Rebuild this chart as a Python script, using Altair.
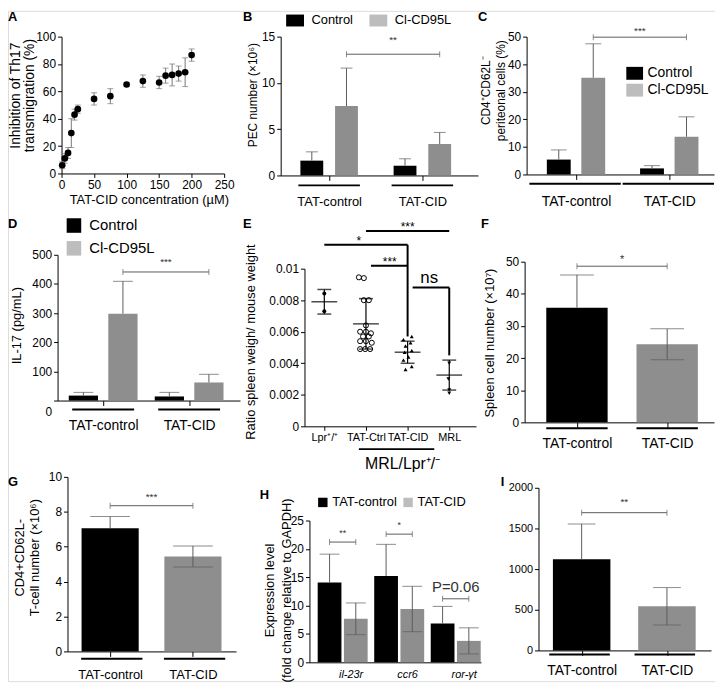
import json
import altair as alt
import pandas as pd

FONT = "Liberation Sans"
BLACK = "#000000"
BAR_GRAY = "#8e8e8e"
LEG_GRAY = "#bdbdbd"
ERR_COL = "#5c5c5c"
SIG_COL = "#333333"
VW, VH, M = 713, 676, 8

# ---------------- data ----------------
A_conc = [1, 5, 10, 15, 20, 25, 50, 75, 100, 125, 150, 160, 170, 180, 190, 200]
A_inhib = [6, 11, 15, 29.5, 43, 47, 54.5, 56.5, 65, 67.5, 66.5, 71.5, 72, 73, 74, 86.5]
A_err = [2.5, 3.5, 4, 10.5, 4, 3, 4.5, 5.5, 1.5, 4.5, 4.5, 5.5, 8, 5.5, 10.5, 4.5]

TAT_GROUPS = ["TAT-control", "TAT-CID"]
CD95_SERIES = ["Control", "Cl-CD95L"]

B_control = [1.6, 1.05]
B_control_err = [0.95, 0.75]
B_cd95 = [7.5, 3.4]
B_cd95_err = [4.1, 1.25]
B_sig_y = [13.1]
B_sig_text = ["**"]

C_control = [5.4, 2.2]
C_control_err = [3.5, 1.0]
C_cd95 = [35.1, 13.7]
C_cd95_err = [12.3, 7.2]
C_sig_y = [49.8]
C_sig_text = ["***"]

D_control = [17, 14]
D_control_err = [11, 14]
D_cd95 = [298, 62]
D_cd95_err = [111, 28]
D_sig_y = [441]
D_sig_text = ["***"]

E_groups = ["Lpr⁺/⁺", "TAT-Ctrl", "TAT-CID", "MRL"]
E_lpr = [0.00843, 0.0073]
E_lpr_jit = [0.0, 0.0]
E_ctrl = [0.00945, 0.0094, 0.0080, 0.0080, 0.0064, 0.0060, 0.0060, 0.0059,
          0.0057, 0.0057, 0.0054, 0.0054, 0.0053, 0.0049, 0.0049, 0.0049]
E_ctrl_jit = [-0.17, -0.05, -0.05, 0.07, 0.0, -0.14, 0.0, 0.12,
              -0.07, 0.07, -0.14, 0.0, 0.14, -0.14, -0.02, 0.1]
E_cid = [0.0057, 0.0055, 0.0053, 0.0051, 0.0048, 0.0047, 0.0044, 0.0042, 0.0038, 0.0036]
E_cid_jit = [0.1, -0.1, 0.07, -0.05, 0.1, -0.07, 0.02, -0.1, 0.1, -0.05]
E_mrl = [0.0040, 0.0030, 0.0023, 0.0021]
E_mrl_jit = [0.0, -0.02, 0.0, 0.0]
E_mean = [0.0079, 0.0065, 0.0047, 0.00325]
E_sd = [0.00078, 0.0016, 0.0007, 0.00095]
E_sig_from = [1, 0, 1.12, 2.12]
E_sig_to = [3, 2, 2, 3]
E_sig_y = [0.01239, 0.01151, 0.01019, 0.0088]
E_sig_text = ["***", "*", "***", "ns"]
E_sig_text_x = [2.0, 0.83, 1.57, 2.52]
E_drop_x = [2, 3]
E_drop_from = [0.01151, 0.0088]
E_drop_to = [0.0057, 0.0045]
E_strain_span = [0.83, 2.64]
E_strain = "MRL/Lpr⁺/⁻"
E_strain_x = 1.88

F_values = [35.7, 24.3]
F_err = [10.2, 4.8]
F_sig_y = [48.6]
F_sig_text = ["*"]

G_values = [7.06, 5.44]
G_err = [0.67, 0.6]
G_sig_y = [8.35]
G_sig_text = ["***"]

H_genes = ["il-23r", "ccr6", "ror-γt"]
H_series = ["TAT-control", "TAT-CID"]
H_control = [14.07, 15.2, 6.86]
H_control_err = [5.0, 5.6, 3.0]
H_cid = [7.67, 9.4, 3.78]
H_cid_err = [2.8, 4.0, 2.3]
H_sig_y = [21.2, 22.6, 11.2]
H_sig_text = ["**", "*", "P=0.06"]

I_values = [1122, 543]
I_err = [433, 230]
I_sig_y = [1694]
I_sig_text = ["**"]


# ---------------- helpers ----------------
def ax(**kw):
    base = dict(grid=False, domainColor=BLACK, tickColor=BLACK, labelColor=BLACK,
                titleColor=BLACK, labelFont=FONT, titleFont=FONT, titleFontWeight="normal",
                labelFlush=False, labelOverlap=False, domainWidth=1, tickWidth=1)
    base.update(kw)
    return alt.Axis(**base)


def ranges(geo):
    x0, x1, y0, y1 = geo
    return [x0 - M, x1 - M], [y1 - M, y0 - M], -(x0 - M), (y1 - M) - VH


def y_factory(p):
    _, yr, yoff, _ = ranges(p["geo"])
    kw = dict(values=p["yticks"], labelFontSize=p["yfs"], tickSize=4, labelPadding=2,
              orient="left", offset=yoff)
    if p.get("ytitle"):
        kw.update(title=p["ytitle"], titleFontSize=p["ytfs"], titleX=p["ytx"], titleY=p["yty"] - M,
                  titleBaseline="top", titleAlign="center",
                  titleLineHeight=p.get("ylh", p["ytfs"] + 2))
    else:
        kw.update(title="")
    if p.get("yfmt"):
        kw["format"] = p["yfmt"]
    if p.get("zero_drop"):
        kw["labelOffset"] = {"condition": {"test": "datum.value === 0", "value": p["zero_drop"]},
                             "value": 0}
    axis = ax(**kw)
    scale = alt.Scale(domain=p["ydom"], range=yr, nice=False, zero=False)
    return lambda field: alt.Y(field, scale=scale, axis=axis)


def x_cat_factory(p):
    xr, _, _, xoff = ranges(p["geo"])
    kw = dict(values=list(range(len(p["groups"]))),
              labelExpr=json.dumps(p["groups"], ensure_ascii=False) + "[datum.value]",
              title="", labelFontSize=p["xfs"], labelPadding=p["xpad"],
              tickSize=max(p["xtick"], 0), ticks=p["xtick"] > 0,
              labelOffset=p.get("xloff", 0), labelFontStyle=p.get("xstyle", "normal"),
              orient="bottom", offset=xoff)
    axis = ax(**kw)
    scale = alt.Scale(domain=p["xdom"], range=xr, nice=False, zero=False)
    return lambda field: alt.X(field, scale=scale, axis=axis)


def letter(t, px, py):
    return alt.Chart(pd.DataFrame({"t": [t]})).mark_text(
        font=FONT, fontSize=13, fontWeight="bold", align="left", baseline="top", color=BLACK
    ).encode(x=alt.value(max(px - M, 0)), y=alt.value(max(py - M, 0)), text="t:N")


def legend_opts(px, py, **kw):
    base = dict(orient="none", legendX=px - M, legendY=py - M, title=None, labelFont=FONT,
                labelColor=BLACK, symbolStrokeWidth=0, padding=0, labelLimit=300)
    base.update(kw)
    return base


def bar_panel(p):
    X = x_cat_factory(p)
    Y = y_factory(p)
    ns = len(p["series"])
    rows = []
    for si, (name, vals, errs) in enumerate(zip(p["series"], p["values"], p["errors"])):
        for gi, gname in enumerate(p["groups"]):
            rows.append({"group": gname, "g": gi, "s": si, "value": vals[gi], "err": errs[gi],
                         "key": name if p["color_by"] == "series" else gname})
    df = pd.DataFrame(rows)
    off, hw = p["off"], p["hw"]
    keys = p["series"] if p["color_by"] == "series" else p["groups"]
    dark = json.dumps(keys[0], ensure_ascii=False)
    # the lower half of an error bar is hidden inside the black bars
    low_expr = (f"datum.key === {dark} ? datum.value : datum.value - datum.err"
                if p["sym"] else "datum.value")
    base = alt.Chart(df).transform_calculate(
        xc=f"datum.g + (2 * datum.s - {ns - 1}) * {off}"
    ).transform_calculate(
        x1=f"datum.xc - {hw}", x2=f"datum.xc + {hw}", zero="0",
        top="datum.value + datum.err", low=low_expr)
    layers = []
    layers.append(base.mark_rect().encode(
        x=X("x1:Q"), x2="x2:Q", y=Y("value:Q"), y2="zero:Q",
        color=alt.Color("key:N", scale=alt.Scale(domain=keys, range=[BLACK, BAR_GRAY]), legend=None)))
    layers.append(base.mark_rule(color=ERR_COL, strokeWidth=1).encode(
        x=X("xc:Q"), y=Y("low:Q"), y2="top:Q"))
    layers.append(base.transform_fold(["top"], as_=["k", "cy"]).mark_tick(
        orient="horizontal", size=p["cap"], thickness=1, color=ERR_COL).encode(
        x=X("xc:Q"), y=Y("cy:Q")))
    if p["sym"]:
        layers.append(base.transform_filter(f"datum.key !== {dark}").mark_tick(
            orient="horizontal", size=p["cap"], thickness=1, color=ERR_COL).encode(
            x=X("xc:Q"), y=Y("low:Q")))
    if p.get("ul") is not None:
        udf = pd.DataFrame({"g": list(range(len(p["groups"])))})
        layers.append(alt.Chart(udf).transform_calculate(
            u1=f"datum.g - {p['ul']}", u2=f"datum.g + {p['ur']}", zero="0"
        ).mark_rule(color=BLACK, strokeWidth=2, yOffset=p["uoff"]).encode(
            x=X("u1:Q"), x2="u2:Q", y=Y("zero:Q")))
    br = p["brackets"]
    bdf = pd.DataFrame({"i": list(range(len(br))),
                        "ga": [b["a"][0] for b in br], "sa": [b["a"][1] for b in br],
                        "gb": [b["b"][0] for b in br], "sb": [b["b"][1] for b in br],
                        "y": [b["y"] for b in br], "label": [b["text"] for b in br]})
    bb = alt.Chart(bdf).transform_calculate(
        xa=f"datum.ga + (2 * datum.sa - {ns - 1}) * {off}",
        xb=f"datum.gb + (2 * datum.sb - {ns - 1}) * {off}"
    ).transform_calculate(xm="(datum.xa + datum.xb) / 2")
    layers.append(bb.mark_rule(color=ERR_COL, strokeWidth=1).encode(
        x=X("xa:Q"), x2="xb:Q", y=Y("y:Q")))
    layers.append(bb.transform_fold(["xa", "xb"], as_=["k", "cx"]).mark_tick(
        orient="vertical", size=6, thickness=1, color=ERR_COL).encode(x=X("cx:Q"), y=Y("y:Q")))
    for i, b in enumerate(br):
        layers.append(bb.transform_filter(f"datum.i == {i}").mark_text(
            font=FONT, fontSize=b["fs"], dy=b["dy"], baseline="middle", color=SIG_COL).encode(
            x=X("xm:Q"), y=Y("y:Q"), text="label:N"))
    if p.get("legend"):
        ldf = pd.DataFrame({"lg": p["series"], "zero": [0] * ns})
        layers.append(alt.Chart(ldf).mark_rect().encode(
            y=Y("zero:Q"), y2="zero:Q",
            color=alt.Color("lg:N", scale=alt.Scale(domain=p["series"], range=[BLACK, LEG_GRAY]),
                            legend=alt.Legend(**p["legend"]))))
    layers.append(letter(*p["letter"]))
    ch = alt.layer(*layers)
    if p.get("legend"):
        ch = ch.resolve_scale(color="independent")
    return ch


# ---------------- panel A ----------------
def panel_a():
    xr, yr, yoff, xoff = ranges((62, 226, 34, 172))
    xs = alt.Scale(domain=[0, 250], range=xr, nice=False, zero=False)
    xa = ax(values=[0, 50, 100, 150, 200, 250], labelFontSize=12, tickSize=4, labelPadding=2,
            title="TAT-CID concentration (µM)", titleFontSize=13, titleX=150 - M, titleY=26,
            titleBaseline="middle", orient="bottom", offset=xoff)
    ys = alt.Scale(domain=[0, 100], range=yr, nice=False, zero=False)
    ya = ax(values=[0, 20, 40, 60, 80, 100], labelFontSize=12, tickSize=4, labelPadding=2,
            title=["Inhibition of Th17", "transmigration (%)"], titleFontSize=14,
            titleX=-53, titleY=93 - M, titleBaseline="top", titleLineHeight=13.5,
            orient="left", offset=yoff)
    X = lambda f: alt.X(f, scale=xs, axis=xa)
    Y = lambda f: alt.Y(f, scale=ys, axis=ya)
    df = pd.DataFrame({"conc": A_conc, "inhib": A_inhib, "err": A_err})
    base = alt.Chart(df).transform_calculate(lo="datum.inhib - datum.err", hi="datum.inhib + datum.err")
    err = base.mark_rule(color="#777777", strokeWidth=1).encode(x=X("conc:Q"), y=Y("lo:Q"), y2="hi:Q")
    caps = base.transform_fold(["lo", "hi"], as_=["k", "cy"]).mark_tick(
        orient="horizontal", size=6, thickness=1, color="#777777").encode(x=X("conc:Q"), y=Y("cy:Q"))
    pts = base.mark_circle(size=45, color=BLACK, opacity=1).encode(x=X("conc:Q"), y=Y("inhib:Q"))
    return alt.layer(err, caps, pts, letter("A", 3, 7))


# ---------------- panel E ----------------
def panel_e():
    xr, yr, yoff, xoff = ranges((307, 480, 268, 427))
    xs = alt.Scale(domain=[-0.476, 3.643], range=xr, nice=False, zero=False)
    xa = ax(values=[0, 1, 2, 3], labelExpr=json.dumps(E_groups, ensure_ascii=False) + "[datum.value]",
            title="", labelFontSize=11, tickSize=4, labelPadding=1, orient="bottom", offset=xoff)
    ys = alt.Scale(domain=[0, 0.01], range=yr, nice=False, zero=False)
    ya = ax(values=[0, 0.002, 0.004, 0.006, 0.008, 0.01], format="~g", labelFontSize=12, tickSize=4,
            labelPadding=2, title="Ratio spleen weigh/ mouse weight", titleFontSize=13,
            titleX=-60, titleY=341.5 - M, titleBaseline="top", orient="left", offset=yoff)
    X = lambda f: alt.X(f, scale=xs, axis=xa)
    Y = lambda f: alt.Y(f, scale=ys, axis=ya)
    rows = []
    for ci, (vals, jit) in enumerate([(E_lpr, E_lpr_jit), (E_ctrl, E_ctrl_jit),
                                      (E_cid, E_cid_jit), (E_mrl, E_mrl_jit)]):
        for v, j in zip(vals, jit):
            rows.append({"cat": ci, "val": v, "jit": j})
    pdf = pd.DataFrame(rows)
    pb = alt.Chart(pdf).transform_calculate(xj="datum.cat + datum.jit")
    layers = [
        pb.transform_filter("datum.cat == 0").mark_point(shape="circle", filled=True, size=16,
                                                         color=BLACK, opacity=1).encode(x=X("xj:Q"), y=Y("val:Q")),
        pb.transform_filter("datum.cat == 1").mark_point(shape="circle", filled=False, size=26,
                                                         strokeWidth=1, color=BLACK, opacity=1).encode(x=X("xj:Q"), y=Y("val:Q")),
        pb.transform_filter("datum.cat == 2").mark_point(shape="triangle-up", filled=True, size=16,
                                                         color=BLACK, opacity=1).encode(x=X("xj:Q"), y=Y("val:Q")),
        pb.transform_filter("datum.cat == 3").mark_point(shape="triangle-down", filled=True, size=16,
                                                         color=BLACK, opacity=1).encode(x=X("xj:Q"), y=Y("val:Q")),
    ]
    sdf = pd.DataFrame({"cat": [0, 1, 2, 3], "mean": E_mean, "sd": E_sd})
    sb = alt.Chart(sdf).transform_calculate(lo="datum.mean - datum.sd", hi="datum.mean + datum.sd")
    layers.append(sb.mark_rule(color=BLACK, strokeWidth=1.2).encode(x=X("cat:Q"), y=Y("lo:Q"), y2="hi:Q"))
    layers.append(sb.mark_tick(orient="horizontal", size=26, thickness=1.5, color=BLACK).encode(
        x=X("cat:Q"), y=Y("mean:Q")))
    layers.append(sb.transform_fold(["lo", "hi"], as_=["k", "cy"]).mark_tick(
        orient="horizontal", size=14, thickness=1.5, color=BLACK).encode(x=X("cat:Q"), y=Y("cy:Q")))
    bdf = pd.DataFrame({"x1": E_sig_from, "x2": E_sig_to, "y": E_sig_y, "label": E_sig_text,
                        "tx": E_sig_text_x})
    bb = alt.Chart(bdf)
    layers.append(bb.mark_rule(color=BLACK, strokeWidth=2).encode(x=X("x1:Q"), x2="x2:Q", y=Y("y:Q")))
    layers.append(bb.transform_filter("datum.label != 'ns'").mark_text(
        font=FONT, fontSize=12, dy=-4, baseline="middle", color=BLACK).encode(
        x=X("tx:Q"), y=Y("y:Q"), text="label:N"))
    layers.append(bb.transform_filter("datum.label == 'ns'").mark_text(
        font=FONT, fontSize=17, dy=-10, baseline="middle", color=BLACK).encode(
        x=X("tx:Q"), y=Y("y:Q"), text="label:N"))
    ddf = pd.DataFrame({"x": E_drop_x, "y1": E_drop_from, "y2": E_drop_to})
    layers.append(alt.Chart(ddf).mark_rule(color=BLACK, strokeWidth=2).encode(
        x=X("x:Q"), y=Y("y1:Q"), y2="y2:Q"))
    cdf = pd.DataFrame({"s0": [E_strain_span[0]], "s1": [E_strain_span[1]], "zero": [0],
                        "cx": [E_strain_x], "label": [E_strain]})
    cb = alt.Chart(cdf)
    layers.append(cb.mark_rule(color=BLACK, strokeWidth=2, yOffset=23).encode(
        x=X("s0:Q"), x2="s1:Q", y=Y("zero:Q")))
    layers.append(cb.mark_text(font=FONT, fontSize=16, dy=38, baseline="middle", color=BLACK).encode(
        x=X("cx:Q"), y=Y("zero:Q"), text="label:N"))
    layers.append(letter("E", 245, 217))
    return alt.layer(*layers)


# ---------------- bar panels ----------------
B = bar_panel(dict(
    geo=(283, 482, 34, 174),
    groups=TAT_GROUPS, series=CD95_SERIES, values=[B_control, B_cd95], errors=[B_control_err, B_cd95_err],
    color_by="series", sym=False, off=0.186, hw=0.1225, cap=12,
    ydom=[0, 15], yticks=[0, 5, 10, 15], yfs=12,
    ytitle="PEC number (×10⁶)", ytfs=12, ytx=-33.6, yty=92.5,
    xdom=[-0.52, 1.597], xfs=13, xpad=15, xtick=5, ul=0.33, ur=0.33, uoff=10,
    brackets=[dict(a=(0, 1), b=(1, 1), y=B_sig_y[0], text=B_sig_text[0], fs=10, dy=-14)],
    legend=legend_opts(291, 11, direction="horizontal", symbolType="M-1.5,-1H1.5V1H-1.5Z",
                       symbolSize=144, labelFontSize=13, labelOffset=10, columnPadding=16),
    letter=("B", 245, 7)))

C = bar_panel(dict(
    geo=(531, 720, 34, 173),
    groups=TAT_GROUPS, series=CD95_SERIES, values=[C_control, C_cd95], errors=[C_control_err, C_cd95_err],
    color_by="series", sym=False, off=0.185, hw=0.128, cap=16,
    ydom=[0, 50], yticks=[0, 10, 20, 30, 40, 50], yfs=12,
    ytitle=["CD4⁺CD62L⁻", "periteonal cells (%)"], ytfs=12, ytx=-46.4, yty=88, ylh=15,
    xdom=[-0.53, 1.48], xfs=14, xpad=15, xtick=5, ul=0.5, ur=0.48, uoff=9.4,
    brackets=[dict(a=(0, 1), b=(1, 1), y=C_sig_y[0], text=C_sig_text[0], fs=10, dy=-6)],
    legend=legend_opts(633, 64, direction="vertical", symbolType="M-1.3,-1H1.3V1H-1.3Z",
                       symbolSize=169, labelFontSize=14, labelOffset=6, rowPadding=3),
    letter=("C", 482, 5)))

D = bar_panel(dict(
    geo=(58, 242, 254, 401),
    groups=TAT_GROUPS, series=CD95_SERIES, values=[D_control, D_cd95], errors=[D_control_err, D_cd95_err],
    color_by="series", sym=False, off=0.23, hw=0.17, cap=20,
    ydom=[0, 500], yticks=[0, 100, 200, 300, 400, 500], yfs=12, zero_drop=11,
    ytitle="IL-17 (pg/mL)", ytfs=13, ytx=-47, yty=325,
    xdom=[-0.53, 1.592], xfs=14, xpad=13, xtick=5, ul=0.36, ur=0.36, uoff=9,
    brackets=[dict(a=(0, 1), b=(1, 1), y=D_sig_y[0], text=D_sig_text[0], fs=10, dy=-10)],
    legend=legend_opts(67, 217, direction="vertical", symbolType="square",
                       symbolSize=215, labelFontSize=15, labelOffset=8, rowPadding=7),
    letter=("D", 3, 217)))

F = bar_panel(dict(
    geo=(529, 720, 261, 423),
    groups=TAT_GROUPS, series=["all"], values=[F_values], errors=[F_err],
    color_by="group", sym=True, off=0, hw=0.34, cap=34,
    ydom=[0, 50], yticks=[0, 10, 20, 30, 40, 50], yfs=12,
    ytitle="Spleen cell number (×10⁷)", ytfs=13, ytx=-41, yty=342.5,
    xdom=[-0.58, 1.519], xfs=14, xpad=9, xtick=5, ul=0.34, ur=0.34, uoff=6,
    brackets=[dict(a=(0, 0), b=(1, 0), y=F_sig_y[0], text=F_sig_text[0], fs=11, dy=-6)],
    letter=("F", 485, 217)))

G = bar_panel(dict(
    geo=(68, 238, 478, 654),
    groups=TAT_GROUPS, series=["all"], values=[G_values], errors=[G_err],
    color_by="group", sym=True, off=0, hw=0.345, cap=40,
    ydom=[0, 10], yticks=[0, 2, 4, 6, 8, 10], yfs=12,
    ytitle=["CD4+CD62L-", "T-cell number (×10⁶)"], ytfs=13, ytx=-54, yty=559, ylh=15,
    xdom=[-0.515, 1.521], xfs=13, xpad=12, xtick=5, ul=0.35, ur=0.39, uoff=7.4,
    brackets=[dict(a=(0, 0), b=(1, 0), y=G_sig_y[0], text=G_sig_text[0], fs=10, dy=-9)],
    letter=("G", 7, 477)))

H = bar_panel(dict(
    geo=(312, 485, 522, 665),
    groups=H_genes, series=H_series, values=[H_control, H_cid], errors=[H_control_err, H_cid_err],
    color_by="series", sym=True, off=0.232, hw=0.21, cap=20,
    ydom=[0, 25], yticks=[0, 5, 10, 15, 20, 25], yfs=12,
    ytitle=["Expression level", "(fold change relative to GAPDH)"], ytfs=13, ytx=-46.6, yty=592, ylh=18,
    xdom=[-0.588, 2.447], xfs=11, xpad=6, xtick=0, xloff=8, xstyle="italic",
    brackets=[dict(a=(g, 0), b=(g, 1), y=H_sig_y[g], text=H_sig_text[g],
                   fs=(15 if H_sig_text[g].startswith("P") else 9),
                   dy=(-12 if H_sig_text[g].startswith("P") else -9)) for g in range(3)],
    legend=legend_opts(319, 497, direction="horizontal", symbolType="square",
                       symbolSize=90, labelFontSize=13, labelOffset=3, columnPadding=4),
    letter=("H", 262, 490)))

I = bar_panel(dict(
    geo=(543, 717, 489, 653),
    groups=TAT_GROUPS, series=["all"], values=[I_values], errors=[I_err],
    color_by="group", sym=True, off=0, hw=0.337, cap=28,
    ydom=[0, 2000], yticks=[0, 500, 1000, 1500, 2000], yfs=11, yfmt="d",
    xdom=[-0.506, 1.517], xfs=14, xpad=8, xtick=5, ul=0.38, ur=0.33, uoff=4,
    brackets=[dict(a=(0, 0), b=(1, 0), y=I_sig_y[0], text=I_sig_text[0], fs=10, dy=-11)],
    letter=("I", 505, 477)))

A = panel_a()
E = panel_e()

chart = alt.layer(A, B, C, D, E, F, G, H, I).resolve_scale(
    x="independent", y="independent", color="independent"
).resolve_axis(x="independent", y="independent").properties(
    width=VW, height=VH, padding=0
).configure_view(stroke="transparent").configure(font=FONT)

chart.save("out.html", embed_options={"renderer": "svg", "actions": False})
